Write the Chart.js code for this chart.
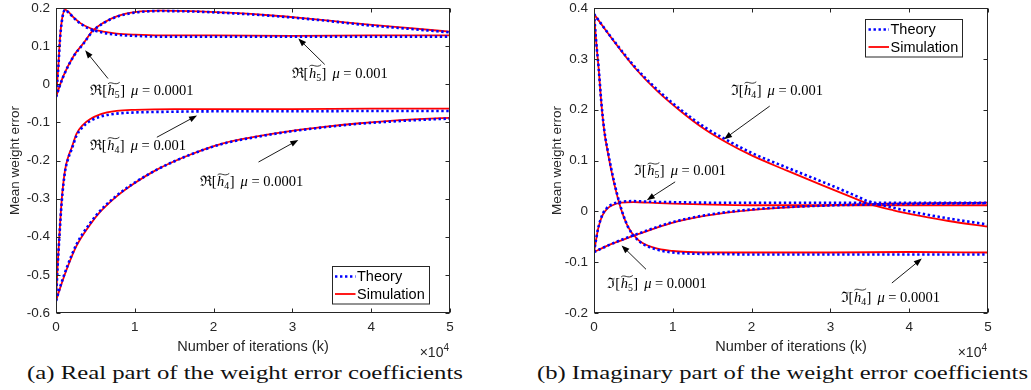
<!DOCTYPE html>
<html>
<head>
<meta charset="utf-8">
<script src="https://cdn.jsdelivr.net/npm/chart.js@4.4.1/dist/chart.umd.min.js"></script>
<style>
  body { margin: 0; background: #fff; width: 1031px; height: 390px; overflow: hidden; position: relative; }
  canvas { position: absolute; top: 0; }
  .cap { position: absolute; top: 362px; font-family: 'Liberation Serif', 'DejaVu Serif', serif; font-size: 18.5px;
         white-space: nowrap; color: #111; line-height: 22px; transform-origin: 0 50%; }
</style>
</head>
<body>
<canvas id="re" width="515" height="360" style="left:0"></canvas>
<canvas id="im" width="516" height="360" style="left:515px"></canvas>
<div class="cap" id="capA" style="left:27px">(a) Real part of the weight error coefficients</div>
<div class="cap" id="capB" style="left:537px">(b) Imaginary part of the weight error coefficients</div>
<script>
// axis ticks (x in units of 10^4 iterations)
const xTicks = [0, 1, 2, 3, 4, 5];
const xTickLabels = ['0', '1', '2', '3', '4', '5'];
const reYTicks = [0.2, 0.1, 0, -0.1, -0.2, -0.3, -0.4, -0.5, -0.6];
const reYTickLabels = ['0.2', '0.1', '0', '-0.1', '-0.2', '-0.3', '-0.4', '-0.5', '-0.6'];
const imYTicks = [0.4, 0.3, 0.2, 0.1, 0, -0.1, -0.2];
const imYTickLabels = ['0.4', '0.3', '0.2', '0.1', '0', '-0.1', '-0.2'];

// (a) Re[h5], mu = 0.001
const reH5FastX = [0, 0.03, 0.05, 0.076, 0.114, 0.16, 0.22, 0.305, 0.4, 0.47, 0.6, 0.77, 1.0, 1.32, 2, 3, 4, 5];
const reH5FastTheory = [-0.033, 0.046, 0.116, 0.168, 0.195, 0.188, 0.175, 0.160, 0.148, 0.142, 0.135, 0.130, 0.127, 0.125, 0.125, 0.125, 0.125, 0.125];
const reH5FastSim = [-0.033, 0.048, 0.118, 0.170, 0.196, 0.189, 0.176, 0.161, 0.150, 0.144, 0.138, 0.133, 0.130, 0.128, 0.128, 0.127, 0.128, 0.128];
// (a) Re[h5], mu = 0.0001
const reH5SlowX = [0, 0.09, 0.22, 0.35, 0.47, 0.6, 0.77, 1.0, 1.32, 1.7, 2.25, 2.7, 3.1, 3.5, 3.94, 4.5, 5];
const reH5SlowTheory = [-0.033, 0.019, 0.072, 0.107, 0.140, 0.160, 0.177, 0.188, 0.192, 0.191, 0.186, 0.180, 0.173, 0.165, 0.155, 0.145, 0.136];
const reH5SlowSim = [-0.033, 0.020, 0.073, 0.108, 0.141, 0.161, 0.178, 0.189, 0.193, 0.192, 0.187, 0.181, 0.174, 0.166, 0.157, 0.147, 0.138];
// (a) Re[h4], mu = 0.001
const reH4FastX = [0, 0.02, 0.04, 0.072, 0.114, 0.156, 0.2, 0.26, 0.34, 0.43, 0.56, 0.77, 1.0, 1.5, 2, 3, 4, 5];
const reH4FastTheory = [-0.568, -0.48, -0.41, -0.31, -0.23, -0.194, -0.170, -0.135, -0.112, -0.097, -0.085, -0.077, -0.074, -0.072, -0.071, -0.071, -0.070, -0.070];
const reH4FastSim = [-0.568, -0.478, -0.407, -0.305, -0.226, -0.190, -0.166, -0.130, -0.107, -0.092, -0.079, -0.070, -0.067, -0.065, -0.065, -0.065, -0.064, -0.064];
// (a) Re[h4], mu = 0.0001
const reH4SlowX = [0, 0.05, 0.135, 0.26, 0.43, 0.56, 0.77, 1.0, 1.28, 1.7, 2.12, 2.55, 2.97, 3.4, 3.82, 4.24, 4.67, 5];
const reH4SlowTheory = [-0.568, -0.533, -0.482, -0.420, -0.365, -0.332, -0.292, -0.258, -0.224, -0.185, -0.156, -0.138, -0.124, -0.113, -0.104, -0.098, -0.093, -0.090];
const reH4SlowSim = [-0.568, -0.536, -0.486, -0.424, -0.369, -0.335, -0.294, -0.259, -0.224, -0.185, -0.155, -0.137, -0.123, -0.112, -0.103, -0.096, -0.091, -0.088];

// (b) Im[h4], mu = 0.001
const imH4FastX = [0, 0.03, 0.06, 0.093, 0.13, 0.18, 0.22, 0.26, 0.326, 0.43, 0.56, 0.77, 1.0, 1.19, 1.6, 2, 3, 4, 5];
const imH4FastTheory = [0.388, 0.33, 0.28, 0.215, 0.16, 0.115, 0.083, 0.055, 0.015, -0.030, -0.057, -0.074, -0.081, -0.083, -0.084, -0.085, -0.085, -0.085, -0.085];
const imH4FastSim = [0.388, 0.33, 0.279, 0.213, 0.158, 0.112, 0.080, 0.052, 0.013, -0.030, -0.056, -0.072, -0.078, -0.080, -0.081, -0.081, -0.081, -0.080, -0.081];
// (b) Im[h4], mu = 0.0001
const imH4SlowX = [0, 0.24, 0.52, 0.8, 1.1, 1.4, 1.7, 2.0, 2.45, 2.9, 3.3, 3.46, 3.8, 4.14, 4.5, 5];
const imH4SlowTheory = [0.388, 0.338, 0.284, 0.240, 0.200, 0.166, 0.139, 0.115, 0.086, 0.058, 0.032, 0.021, 0.007, -0.004, -0.014, -0.026];
const imH4SlowSim = [0.388, 0.337, 0.282, 0.237, 0.197, 0.162, 0.134, 0.110, 0.080, 0.051, 0.026, 0.016, 0.002, -0.009, -0.019, -0.030];
// (b) Im[h5], mu = 0.001
const imH5FastX = [0, 0.03, 0.05, 0.08, 0.114, 0.16, 0.22, 0.35, 0.5, 0.69, 1.0, 1.5, 2, 3, 4, 5];
const imH5FastTheory = [-0.080, -0.052, -0.035, -0.018, -0.004, 0.006, 0.013, 0.019, 0.020, 0.019, 0.018, 0.017, 0.017, 0.017, 0.017, 0.017];
const imH5FastSim = [-0.080, -0.053, -0.036, -0.019, -0.006, 0.004, 0.011, 0.017, 0.018, 0.017, 0.015, 0.013, 0.012, 0.012, 0.012, 0.012];
// (b) Im[h5], mu = 0.0001
const imH5SlowX = [0, 0.18, 0.35, 0.56, 0.98, 1.4, 2.02, 2.87, 3.71, 4.3, 5];
const imH5SlowTheory = [-0.080, -0.067, -0.056, -0.044, -0.022, -0.008, 0.004, 0.011, 0.014, 0.015, 0.016];
const imH5SlowSim = [-0.080, -0.067, -0.057, -0.045, -0.023, -0.009, 0.003, 0.011, 0.015, 0.016, 0.017];

const SANS = "'Liberation Sans', Arial, Helvetica, sans-serif";
const SERIF = "'Liberation Serif', 'DejaVu Serif', serif";
const AXIS = '#262626';

const pts = (xs, ys) => xs.map((x, i) => ({ x, y: ys[i] }));

function pair(xs, theory, sim) {
    return [
        { label: 'Theory', data: pts(xs, theory), borderColor: '#0000ff', borderWidth: 2.6,
          borderDash: [2.4, 2.6], order: 0 },
        { label: 'Simulation', data: pts(xs, sim), borderColor: '#ff0000', borderWidth: 1.8, order: 1 },
    ];
}

// annotation labels in data coords: text centre, arrow tail, arrow tip
const reNotes = [
    { op: 'ℜ', sub: '5', mu: '0.001', at: [3.60, 0.030], from: [3.41, 0.052], to: [3.075, 0.120] },
    { op: 'ℜ', sub: '5', mu: '0.0001', at: [1.09, -0.016], from: [0.66, 0.015], to: [0.37, 0.089] },
    { op: 'ℜ', sub: '4', mu: '0.001', at: [1.04, -0.160], from: [1.28, -0.139], to: [1.79, -0.082] },
    { op: 'ℜ', sub: '4', mu: '0.0001', at: [2.48, -0.255], from: [2.57, -0.204], to: [3.075, -0.146] },
];
const imNotes = [
    { op: 'ℑ', sub: '4', mu: '0.001', at: [2.32, 0.239], from: [2.23, 0.207], to: [1.65, 0.142] },
    { op: 'ℑ', sub: '5', mu: '0.001', at: [1.09, 0.080], from: [1.03, 0.058], to: [0.67, 0.022] },
    { op: 'ℑ', sub: '5', mu: '0.0001', at: [0.80, -0.142], from: [0.66, -0.114], to: [0.35, -0.067] },
    { op: 'ℑ', sub: '4', mu: '0.0001', at: [3.76, -0.168], from: [3.78, -0.141], to: [4.16, -0.093] },
];

function drawNote(ctx, cx, cy, n) {
    const fs = 14.5;
    const rm = fs + 'px ' + SERIF, it = 'italic ' + fs + 'px ' + SERIF, sm = (fs * 0.68) + 'px ' + SERIF;
    // [text, font, baseline shift, extra gap after]
    const parts = [[n.op + '[', rm, 0, 0.5], ['h', it, 0, 0], [n.sub, sm, 3, 0.5], [']', rm, 0, 6],
                   ['μ', it, 0, 0], [' = ' + n.mu, rm, 0, 0]];
    let w = 0;
    parts.forEach(p => { ctx.font = p[1]; p.push(ctx.measureText(p[0]).width); w += p[4] + p[3]; });
    let x = cx - w / 2;
    ctx.textBaseline = 'alphabetic';
    ctx.textAlign = 'left';
    const base = cy + fs * 0.33;
    let hx0 = 0, hx1 = 0;
    parts.forEach((p, i) => {
        ctx.font = p[1];
        ctx.fillText(p[0], x, base + p[2]);
        if (i === 1) hx0 = x;
        if (i === 2) hx1 = x + p[4];
        x += p[4] + p[3];
    });
    // wide tilde over h and its subscript
    const ty = base - fs * 0.85;
    ctx.beginPath();
    ctx.lineWidth = 0.8;
    ctx.moveTo(hx0 + 0.5, ty + 1);
    ctx.bezierCurveTo(hx0 + (hx1 - hx0) * 0.3, ty - 2.2, hx0 + (hx1 - hx0) * 0.6, ty + 3.4, hx1, ty - 0.5);
    ctx.stroke();
}

function drawArrow(ctx, x0, y0, x1, y1) {
    const ang = Math.atan2(y1 - y0, x1 - x0), hl = 8, hw = 3;
    ctx.beginPath();
    ctx.lineWidth = 0.9;
    ctx.moveTo(x0, y0);
    ctx.lineTo(x1 - Math.cos(ang) * hl * 0.8, y1 - Math.sin(ang) * hl * 0.8);
    ctx.stroke();
    ctx.beginPath();
    ctx.moveTo(x1, y1);
    ctx.lineTo(x1 - Math.cos(ang) * hl - Math.sin(ang) * hw, y1 - Math.sin(ang) * hl + Math.cos(ang) * hw);
    ctx.lineTo(x1 - Math.cos(ang) * hl + Math.sin(ang) * hw, y1 - Math.sin(ang) * hl - Math.cos(ang) * hw);
    ctx.closePath();
    ctx.fill();
}

const matlabAxes = {
    id: 'matlabAxes',
    afterDatasetsDraw(chart, args, opts) {
        const { ctx, chartArea: a, scales: { x, y } } = chart;
        ctx.save();

        // annotations
        ctx.fillStyle = '#000';
        ctx.strokeStyle = '#000';
        opts.notes.forEach(n => {
            drawNote(ctx, x.getPixelForValue(n.at[0]), y.getPixelForValue(n.at[1]), n);
            drawArrow(ctx, x.getPixelForValue(n.from[0]), y.getPixelForValue(n.from[1]),
                      x.getPixelForValue(n.to[0]), y.getPixelForValue(n.to[1]));
        });

        // box + inward ticks on all sides
        const L = Math.round(a.left) + 0.5, R = Math.round(a.right) - 0.5;
        const T = Math.round(a.top) + 0.5, B = Math.round(a.bottom) - 0.5;
        ctx.strokeStyle = AXIS;
        ctx.lineWidth = 1;
        ctx.strokeRect(L, T, R - L, B - T);
        ctx.beginPath();
        x.ticks.forEach(t => {
            const px = Math.round(x.getPixelForValue(t.value)) + 0.5;
            ctx.moveTo(px, B); ctx.lineTo(px, B - 4);
            ctx.moveTo(px, T); ctx.lineTo(px, T + 4);
        });
        y.ticks.forEach(t => {
            const py = Math.round(y.getPixelForValue(t.value)) + 0.5;
            ctx.moveTo(L, py); ctx.lineTo(L + 4, py);
            ctx.moveTo(R, py); ctx.lineTo(R - 4, py);
        });
        ctx.stroke();

        // exponent label
        ctx.fillStyle = AXIS;
        ctx.textBaseline = 'middle';
        ctx.textAlign = 'right';
        ctx.font = '10px ' + SANS;
        ctx.fillText('4', a.right - 1, a.bottom + 35);
        const w4 = ctx.measureText('4').width;
        ctx.font = '14px ' + SANS;
        ctx.fillText('×10', a.right - 1 - w4, a.bottom + 40);

        // legend box
        const lg = opts.legend;
        const bw = 97, bh = 37.5;
        const bx = a.right - lg.right - bw;
        const by = lg.top != null ? a.top + lg.top : a.bottom - lg.bottom - bh;
        ctx.fillStyle = '#fff';
        ctx.fillRect(bx, by, bw, bh);
        ctx.strokeStyle = '#262626';
        ctx.lineWidth = 1;
        ctx.strokeRect(Math.round(bx) + 0.5, Math.round(by) + 0.5, bw, bh);
        ['Theory', 'Simulation'].forEach((lab, i) => {
            const ds = chart.data.datasets.find(d => d.label === lab);
            const ly = by + 10.5 + i * 17.5;
            ctx.beginPath();
            ctx.strokeStyle = ds.borderColor;
            ctx.lineWidth = ds.borderWidth;
            ctx.setLineDash(ds.borderDash || []);
            ctx.moveTo(bx + 3.5, ly);
            ctx.lineTo(bx + 24, ly);
            ctx.stroke();
            ctx.setLineDash([]);
            ctx.fillStyle = '#000';
            ctx.textAlign = 'left';
            ctx.textBaseline = 'middle';
            ctx.font = '14.5px ' + SANS;
            ctx.fillText(lab, bx + 25.5, ly + 0.5);
        });
        ctx.restore();
    }
};

function makeChart(id, datasets, yMin, yMax, yTicks, yTickLabels, yWidth, yTitlePad, rightPad, notes, legend) {
    const label = (vals, labs) => v => {
        const i = vals.findIndex(t => Math.abs(t - v) < 1e-9);
        return i < 0 ? '' : labs[i];
    };
    return new Chart(document.getElementById(id), {
        type: 'line',
        data: { datasets },
        options: {
            responsive: false,
            animation: false,
            parsing: false,
            layout: { padding: { top: 8, right: rightPad, left: 0, bottom: 0 } },
            elements: {
                point: { radius: 0 },
                line: { cubicInterpolationMode: 'monotone', fill: false },
            },
            plugins: {
                legend: { display: false },
                tooltip: { enabled: false },
                matlabAxes: { notes, legend },
            },
            scales: {
                x: {
                    type: 'linear', min: 0, max: 5,
                    grid: { display: false, drawTicks: false },
                    border: { display: false },
                    afterBuildTicks: s => { s.ticks = xTicks.map(v => ({ value: v })); },
                    afterFit: s => { s.height = 47; s.paddingLeft = 0; s.paddingRight = 0; },
                    ticks: { color: AXIS, padding: 6, maxRotation: 0,
                             font: { family: SANS, size: 13.5 }, callback: label(xTicks, xTickLabels) },
                    title: { display: true, text: 'Number of iterations (k)', color: AXIS,
                             font: { family: SANS, size: 14.5 }, padding: { top: 0, bottom: 4 } },
                },
                y: {
                    type: 'linear', min: yMin, max: yMax,
                    grid: { display: false, drawTicks: false },
                    border: { display: false },
                    afterBuildTicks: s => { s.ticks = yTicks.map(v => ({ value: v })); },
                    afterFit: s => { s.width = yWidth; s.paddingTop = 0; s.paddingBottom = 0; },
                    ticks: { color: AXIS, padding: 6,
                             font: { family: SANS, size: 13.5 }, callback: label(yTicks, yTickLabels) },
                    title: { display: true, text: 'Mean weight error', color: AXIS,
                             font: { family: SANS, size: 13.5 }, padding: { top: yTitlePad, bottom: 0 } },
                },
            },
        },
        plugins: [matlabAxes],
    });
}

makeChart('re', [
    ...pair(reH5FastX, reH5FastTheory, reH5FastSim),
    ...pair(reH5SlowX, reH5SlowTheory, reH5SlowSim),
    ...pair(reH4FastX, reH4FastTheory, reH4FastSim),
    ...pair(reH4SlowX, reH4SlowTheory, reH4SlowSim),
], -0.6, 0.2, reYTicks, reYTickLabels, 56, 7, 65, reNotes, { right: 21.5, bottom: 9.5 });

makeChart('im', [
    ...pair(imH4FastX, imH4FastTheory, imH4FastSim),
    ...pair(imH4SlowX, imH4SlowTheory, imH4SlowSim),
    ...pair(imH5FastX, imH5FastTheory, imH5FastSim),
    ...pair(imH5SlowX, imH5SlowTheory, imH5SlowSim),
], -0.2, 0.4, imYTicks, imYTickLabels, 79, 34, 43, imNotes, { right: 26, top: 11 });

// captions are set in a wide roman face in the original; stretch to the same span
[['capA', 436], ['capB', 491]].forEach(([id, target]) => {
    const el = document.getElementById(id);
    el.style.transform = 'scaleX(' + (target / el.getBoundingClientRect().width) + ')';
});
</script>
</body>
</html>
